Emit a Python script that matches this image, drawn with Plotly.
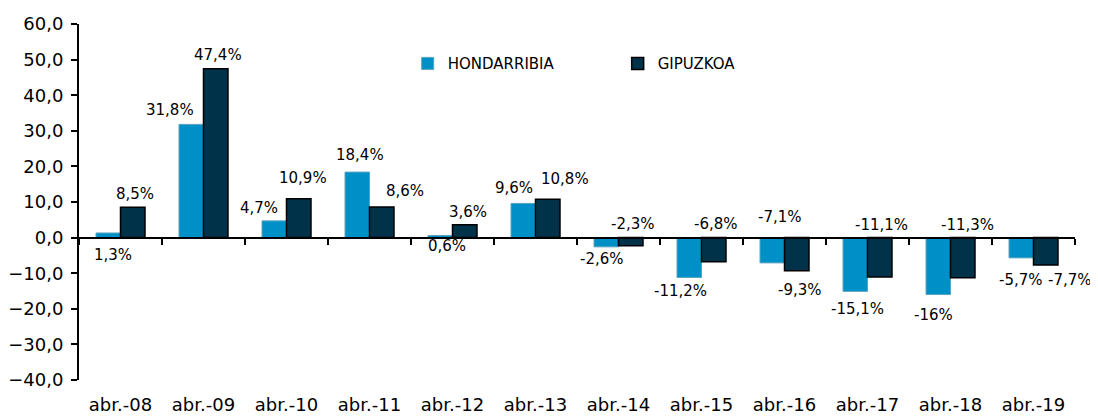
import plotly.graph_objects as go

categories = ["abr.-08", "abr.-09", "abr.-10", "abr.-11", "abr.-12", "abr.-13",
              "abr.-14", "abr.-15", "abr.-16", "abr.-17", "abr.-18", "abr.-19"]
hondarribia = [1.3, 31.8, 4.7, 18.4, 0.6, 9.6, -2.6, -11.2, -7.1, -15.1, -16, -5.7]
gipuzkoa = [8.5, 47.4, 10.9, 8.6, 3.6, 10.8, -2.3, -6.8, -9.3, -11.1, -11.3, -7.7]
y_ticks = [-40, -30, -20, -10, 0, 10, 20, 30, 40, 50, 60]

# label placement: (anchor mode, x shift px, y shift px) -- "end" = bar end, "zero" = axis
h_label_place = [("zero", 5, -17), ("end", -21, 14), ("end", -15, 13), ("end", 3, 17),
                 ("zero", 7, -8), ("end", -9, 15), ("end", -4, -12), ("end", -9, -14),
                 ("zero", 8, 21), ("end", 2, -18), ("end", -5, -20), ("end", 0, -22)]
g_label_place = [("end", 2, 13), ("end", 2, 14), ("end", 4, 21), ("end", 23, 16),
                 ("end", 3, 13), ("end", 17, 20), ("zero", 2, 14), ("zero", 2, 14),
                 ("end", 3, -19), ("zero", 2, 13), ("zero", 5, 13), ("end", 24, -15)]

H_COLOR = "#0090C8"
G_COLOR = "#00334A"
FONT = "DejaVu Sans"

# page body adds 8px around the figure
W, H = 1090, 408
ML, MR, MT, MB = 71, 23, 16, 36
plot_w = W - ML - MR
cat_w = plot_w / len(categories)
BARGAP = 0.41
bar_w = cat_w * (1 - BARGAP) / 2


def fmt(v):
    return f"{v:g}".replace(".", ",") + "%"


fig = go.Figure()
fig.add_trace(go.Bar(x=categories, y=hondarribia, name="HONDARRIBIA",
                     marker=dict(color=H_COLOR, line=dict(color="#5aa3be", width=1))))
fig.add_trace(go.Bar(x=categories, y=gipuzkoa, name="GIPUZKOA",
                     marker=dict(color=G_COLOR, line=dict(color="#000000", width=1.5))))
# helper trace for the category axis drawn at zero
fig.add_trace(go.Scatter(x=categories, y=[None] * len(categories), xaxis="x2", yaxis="y",
                         showlegend=False, hoverinfo="skip", mode="markers"))

annotations = []
for series, places, side in ((hondarribia, h_label_place, -1), (gipuzkoa, g_label_place, 1)):
    for cat, v, (mode, dx, dy) in zip(categories, series, places):
        annotations.append(dict(
            x=cat, y=v if mode == "end" else 0, xref="x", yref="y",
            text=fmt(v), showarrow=False,
            xshift=side * bar_w / 2 + dx, yshift=dy,
            xanchor="center", yanchor="middle",
            font=dict(family=FONT, size=15, color="#000000")))

fig.update_layout(
    width=W, height=H,
    margin=dict(l=ML, r=MR, t=MT, b=MB, pad=0, autoexpand=False),
    paper_bgcolor="white", plot_bgcolor="white",
    barmode="group", bargap=BARGAP, bargroupgap=0,
    separators=",.",
    font=dict(family=FONT, size=18, color="#000000"),
    showlegend=True,
    legend=dict(orientation="h", x=0.33, y=0.935, xanchor="left", yanchor="top",
                font=dict(family=FONT, size=15, color="#000000"),
                bgcolor="rgba(0,0,0,0)", entrywidth=165, entrywidthmode="pixels",
                traceorder="normal"),
    xaxis=dict(type="category", range=[-0.5, len(categories) - 0.5], automargin=False,
               showline=False, showgrid=False, zeroline=False, ticks="",
               tickfont=dict(family=FONT, size=18), ticklabelstandoff=12),
    xaxis2=dict(type="category", overlaying="x", anchor="free", position=0.4,
                range=[-0.5, len(categories) - 0.5], matches="x", automargin=False,
                showline=True, linecolor="#000000", linewidth=2,
                ticks="outside", ticklen=6, tickwidth=2, tickcolor="#000000",
                tickson="boundaries", showticklabels=False, showgrid=False, zeroline=False),
    yaxis=dict(range=[-40, 60], tickvals=y_ticks, tickformat=".1f", automargin=False,
               showline=True, linecolor="#000000", linewidth=2,
               ticks="outside", ticklen=6, tickwidth=2, tickcolor="#000000",
               showgrid=False, zeroline=False,
               tickfont=dict(family=FONT, size=18), ticklabelstandoff=4),
    annotations=annotations,
)

fig.write_html("out.html")
